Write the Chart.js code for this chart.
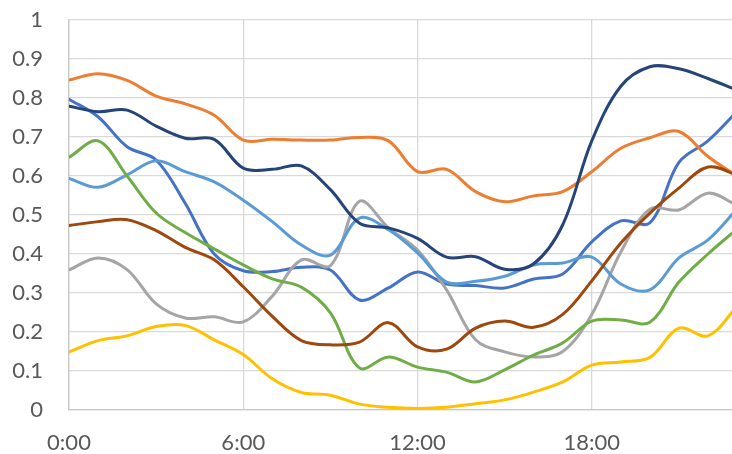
<!DOCTYPE html>
<html>
<head>
<meta charset="utf-8">
<script src="https://cdn.jsdelivr.net/npm/chart.js@4/dist/chart.umd.min.js"></script>
<style>
  html, body { margin: 0; padding: 0; background: #ffffff; overflow: hidden; width: 732px; height: 454px; }
  canvas { display: block; }
</style>
</head>
<body>
<canvas id="chart" width="760" height="454" style="width:760px;height:454px"></canvas>
<script>
// Hour of day for every reading
const hours = [0, 1, 2, 3, 4, 5, 6, 7, 8, 9, 10, 11, 12, 13, 14, 15, 16, 17, 18, 19, 20, 21, 22, 23];

// Hourly profiles, one array per line
const seriesBlue = [0.797, 0.752, 0.675, 0.641, 0.530, 0.400, 0.357, 0.355, 0.366, 0.359, 0.282, 0.313,
                    0.354, 0.323, 0.319, 0.313, 0.336, 0.349, 0.431, 0.485, 0.480, 0.635, 0.690, 0.765];
const seriesOrange = [0.846, 0.862, 0.845, 0.805, 0.785, 0.756, 0.692, 0.694, 0.692, 0.692, 0.699, 0.690,
                      0.611, 0.617, 0.560, 0.534, 0.549, 0.560, 0.611, 0.671, 0.698, 0.714, 0.650, 0.600];
const seriesGray = [0.359, 0.390, 0.360, 0.272, 0.236, 0.239, 0.226, 0.292, 0.385, 0.370, 0.535, 0.467,
                    0.410, 0.308, 0.180, 0.149, 0.136, 0.150, 0.245, 0.405, 0.515, 0.513, 0.556, 0.525];
const seriesGold = [0.149, 0.178, 0.190, 0.214, 0.217, 0.180, 0.142, 0.080, 0.045, 0.038, 0.015, 0.007,
                    0.004, 0.007, 0.016, 0.026, 0.046, 0.072, 0.115, 0.123, 0.135, 0.210, 0.190, 0.265];
const seriesLightBlue = [0.594, 0.571, 0.603, 0.639, 0.611, 0.585, 0.538, 0.483, 0.423, 0.397, 0.492, 0.462,
                         0.403, 0.328, 0.330, 0.343, 0.372, 0.377, 0.392, 0.323, 0.308, 0.390, 0.436, 0.515];
const seriesGreen = [0.648, 0.690, 0.600, 0.505, 0.455, 0.413, 0.372, 0.336, 0.315, 0.249, 0.108, 0.136,
                     0.110, 0.097, 0.072, 0.103, 0.141, 0.172, 0.228, 0.231, 0.225, 0.328, 0.400, 0.464];
const seriesNavy = [0.779, 0.765, 0.769, 0.728, 0.697, 0.694, 0.620, 0.617, 0.626, 0.565, 0.479, 0.467,
                    0.440, 0.392, 0.393, 0.361, 0.375, 0.475, 0.690, 0.830, 0.880, 0.875, 0.850, 0.820];
const seriesBrown = [0.473, 0.483, 0.488, 0.460, 0.417, 0.385, 0.316, 0.240, 0.178, 0.167, 0.174, 0.224,
                     0.162, 0.156, 0.210, 0.228, 0.212, 0.245, 0.331, 0.428, 0.505, 0.569, 0.623, 0.603];

// Axis ticks
const xTickValues = [0, 6, 12, 18];
const xTickLabels = ['0:00', '6:00', '12:00', '18:00'];
const yTickValues = [0, 0.1, 0.2, 0.3, 0.4, 0.5, 0.6, 0.7, 0.8, 0.9, 1];
const yTickLabels = ['0', '0.1', '0.2', '0.3', '0.4', '0.5', '0.6', '0.7', '0.8', '0.9', '1'];

const lines = [
  { label: 'Series 1', values: seriesBlue, color: '#4472C4' },
  { label: 'Series 2', values: seriesOrange, color: '#ED7D31' },
  { label: 'Series 3', values: seriesGray, color: '#A5A5A5' },
  { label: 'Series 4', values: seriesGold, color: '#FFC000' },
  { label: 'Series 5', values: seriesLightBlue, color: '#5B9BD5' },
  { label: 'Series 6', values: seriesGreen, color: '#70AD47' },
  { label: 'Series 7', values: seriesNavy, color: '#264478' },
  { label: 'Series 8', values: seriesBrown, color: '#9E480E' }
];

// Later series are painted over earlier ones
const datasets = lines.map((s, i) => ({
  label: s.label,
  data: hours.map((h, k) => ({ x: h, y: s.values[k] })),
  borderColor: s.color,
  backgroundColor: s.color,
  order: lines.length - i
}));

const labelFont = { family: 'Lato', size: 22 };
const labelColor = '#595959';

new Chart(document.getElementById('chart'), {
  type: 'line',
  data: { datasets },
  options: {
    responsive: false,
    animation: false,
    devicePixelRatio: 1,
    layout: { padding: { top: 20, right: 23, bottom: 0, left: 0 } },
    plugins: { legend: { display: false }, tooltip: { enabled: false } },
    elements: {
      point: { radius: 0 },
      line: { tension: 0.35, borderWidth: 3, borderCapStyle: 'round', borderJoinStyle: 'round', fill: false }
    },
    scales: {
      x: {
        type: 'linear',
        min: 0,
        max: 23,
        afterBuildTicks: (scale) => { scale.ticks = xTickValues.map(v => ({ value: v })); },
        afterFit: (scale) => {
          scale.height = 44;
          scale.paddingLeft = 0;
          scale.paddingRight = 0;
        },
        grid: { color: '#d9d9d9', lineWidth: 1.3, drawTicks: false },
        border: { color: '#c8c8c8', width: 1.3 },
        ticks: {
          padding: 20,
          color: labelColor,
          font: labelFont,
          maxRotation: 0,
          autoSkip: false,
          callback: (v) => xTickLabels[xTickValues.indexOf(v)]
        }
      },
      y: {
        type: 'linear',
        min: 0,
        max: 1,
        afterBuildTicks: (scale) => { scale.ticks = yTickValues.map(v => ({ value: v })); },
        afterFit: (scale) => {
          scale.width = 69;
          scale.paddingTop = 0;
          scale.paddingBottom = 0;
        },
        grid: { color: '#d9d9d9', lineWidth: 1.3, drawTicks: false },
        border: { color: '#c8c8c8', width: 1.3 },
        ticks: {
          padding: 26,
          color: labelColor,
          font: labelFont,
          autoSkip: false,
          callback: (v) => yTickLabels[yTickValues.indexOf(v)]
        }
      }
    }
  }
});
</script>
</body>
</html>
